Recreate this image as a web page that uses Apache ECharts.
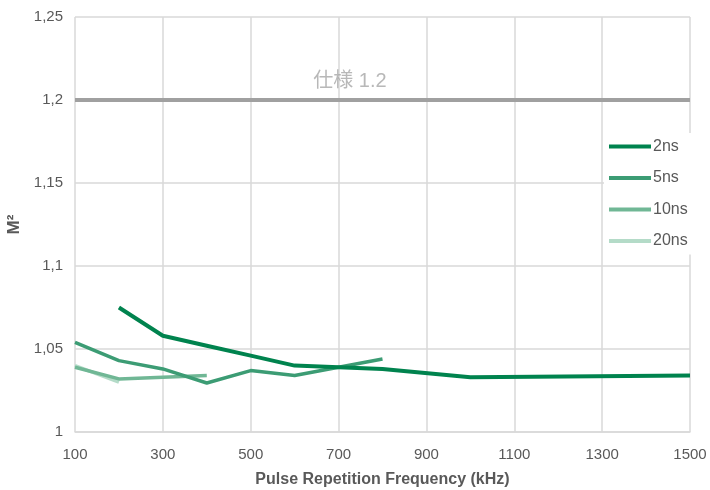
<!DOCTYPE html>
<html>
<head>
<meta charset="utf-8">
<script src="https://cdn.jsdelivr.net/npm/echarts@6/dist/echarts.min.js"></script>
<style>html,body{margin:0;padding:0;background:#fff;}#c{width:710px;height:490px;}</style>
</head>
<body>
<div id="c"></div>
<script>
const seriesNames = ['2ns', '5ns', '10ns', '20ns'];
const seriesColors = ['#00834E', '#3C9C74', '#70B795', '#B4DBC8'];
const data2ns = [[200, 1.075], [300, 1.058], [400, 1.052], [500, 1.046], [600, 1.040], [800, 1.038], [1000, 1.033], [1500, 1.034]];
const data5ns = [[100, 1.054], [200, 1.043], [300, 1.038], [400, 1.0295], [500, 1.037], [600, 1.034], [700, 1.039], [800, 1.044]];
const data10ns = [[100, 1.039], [200, 1.032], [300, 1.033], [400, 1.034]];
const data20ns = [[100, 1.040], [200, 1.030]];
const specValue = 1.2;
const specText = '仕様 1.2';
const specLabelX = 726;
const xTitle = 'Pulse Repetition Frequency (kHz)';
const yTitle = 'M²';

const allData = [data2ns, data5ns, data10ns, data20ns];
const font = '"Liberation Sans", Arial, "Noto Sans CJK JP", sans-serif';

const chart = echarts.init(document.getElementById('c'));
const series = [
  {
    name: 'spec', type: 'line', data: [[100, specValue], [1500, specValue]],
    showSymbol: false, silent: true, z: 1,
    lineStyle: { color: '#A0A0A0', width: 4 }
  },
  {
    name: 'specLabel', type: 'scatter', data: [[specLabelX, specValue]],
    symbolSize: 0, silent: true,
    label: { show: true, position: 'top', distance: 9, formatter: specText,
      color: '#A6A6A6', fontSize: 20, fontFamily: font }
  }
];
seriesNames.forEach((n, i) => {
  series.push({
    name: n, type: 'line', data: allData[i], showSymbol: false,
    z: 5 - i,
    lineStyle: { color: seriesColors[i], width: i === 0 ? 4 : 3.5 },
    itemStyle: { color: seriesColors[i] }
  });
});

chart.setOption({
  animation: false,
  textStyle: { fontFamily: font },
  grid: { left: 75, right: 20, top: 17, bottom: 58, containLabel: false, outerBoundsMode: 'none' },
  legend: {
    data: seriesNames, orient: 'vertical', left: 604, top: 133,
    backgroundColor: '#fff', padding: [5, 8, 5, 5],
    itemWidth: 42, itemHeight: 4, itemGap: 14.5, icon: 'rect',
    textStyle: { color: '#595959', fontSize: 16, lineHeight: 17, fontFamily: font, padding: [0, 0, 0, -3] }
  },
  xAxis: {
    type: 'value', min: 100, max: 1500, interval: 200,
    name: xTitle, nameLocation: 'middle', nameGap: 40,
    nameTextStyle: { color: '#595959', fontSize: 16, fontWeight: 'bold', fontFamily: font },
    axisLine: { show: true, lineStyle: { color: '#D9D9D9', width: 1.5 } },
    axisTick: { show: false },
    axisLabel: { color: '#595959', fontSize: 15, margin: 15, fontFamily: font, formatter: v => String(v) },
    splitLine: { show: true, lineStyle: { color: '#D9D9D9', width: 1.5 } }
  },
  yAxis: {
    type: 'value', min: 1, max: 1.25, interval: 0.05,
    name: yTitle, nameLocation: 'middle', nameGap: 47,
    nameTextStyle: { color: '#595959', fontSize: 17, fontWeight: 'bold', fontFamily: font },
    axisLine: { show: false },
    axisTick: { show: false },
    axisLabel: { color: '#595959', fontSize: 15, margin: 12, fontFamily: font,
      formatter: v => String(+v.toFixed(2)).replace('.', ',') },
    splitLine: { show: true, lineStyle: { color: '#D9D9D9', width: 1.5 } }
  },
  series: series
});
</script>
</body>
</html>
